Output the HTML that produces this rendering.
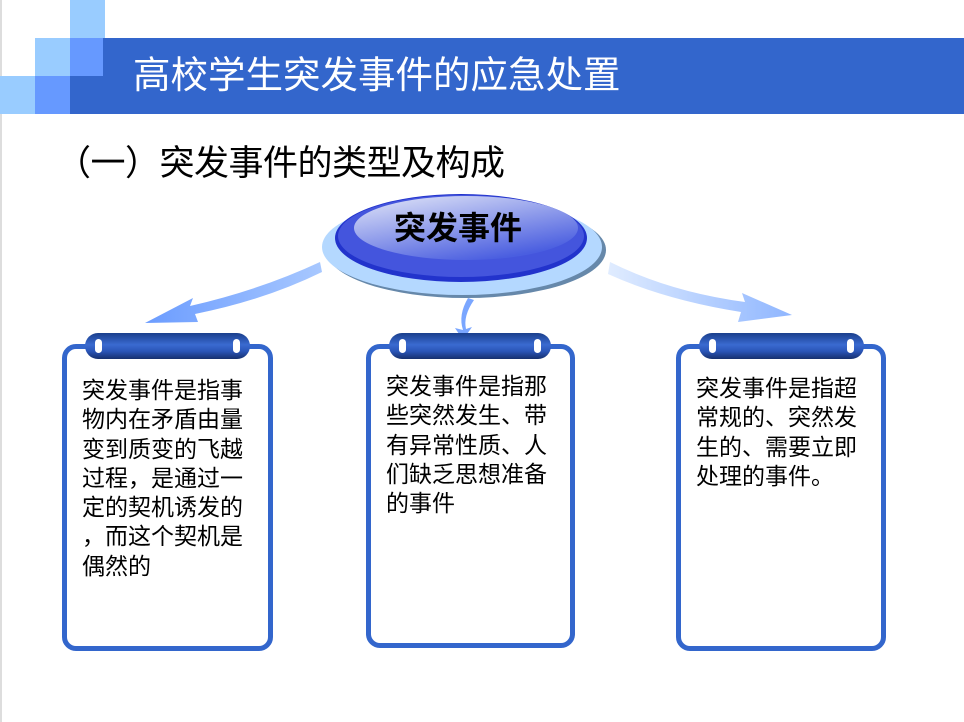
<!DOCTYPE html>
<html><head><meta charset="utf-8"><style>
body{margin:0;width:964px;height:722px;background:#fff;position:relative;overflow:hidden;font-family:"Liberation Sans","Noto Sans CJK SC",sans-serif}
.sq{position:absolute;width:35px;height:38px}
.box{position:absolute;border:5px solid #3366cc;border-radius:14px;background:#fff;box-sizing:border-box}
.tab{position:absolute;height:26px;border-radius:13px;background:linear-gradient(#1a3f8c,#3a6ad0 45%,#2a55b8 70%,#16306e)}
.tab i{position:absolute;top:6px;width:7px;height:14px;border-radius:4px;background:#fff}
.txt{position:absolute;font-size:23px;line-height:29.3px;color:#000;white-space:nowrap}
</style></head><body>
<div style="position:absolute;left:0;top:0;width:2px;height:722px;background:#ddd"></div>
<div class="sq" style="left:70px;top:0;background:#99ccff"></div>
<div class="sq" style="left:35px;top:38px;background:#99ccff"></div>
<div class="sq" style="left:70px;top:38px;background:#6699ff"></div>
<div class="sq" style="left:0;top:76px;background:#99ccff"></div>
<div class="sq" style="left:35px;top:76px;background:#6699ff"></div>
<div class="sq" style="left:70px;top:76px;background:#3366cc"></div>
<div style="position:absolute;left:103px;top:38px;width:861px;height:76px;background:#3366cc"></div>
<div style="position:absolute;left:133px;top:53px;font-size:37.5px;color:#fff;line-height:44px;white-space:nowrap">高校学生突发事件的应急处置</div>
<div style="position:absolute;left:56px;top:142px;font-size:35px;color:#000;line-height:44px;white-space:nowrap;letter-spacing:-0.5px">（一）突发事件的类型及构成</div>
<svg width="964" height="722" style="position:absolute;left:0;top:0">
<defs>
<linearGradient id="lg" x1="0" y1="0" x2="1" y2="0"><stop offset="0" stop-color="#6b9cff"/><stop offset="1" stop-color="#a8c8ff"/></linearGradient>
<linearGradient id="rg" x1="0" y1="0" x2="1" y2="0"><stop offset="0" stop-color="#e0ecff"/><stop offset="1" stop-color="#8fb6ff"/></linearGradient>
<linearGradient id="ig" x1="0" y1="0" x2="0.6" y2="1"><stop offset="0" stop-color="#e4e8f8"/><stop offset="1" stop-color="#4a5ee0"/></linearGradient>
</defs>
<path d="M320,262 Q260,290 190,306 L193,298 L145,323 L198,322 L195,314 Q265,300 322,272 Z" fill="url(#lg)"/>
<path d="M610,262 Q670,292 745,302 L742,293 L792,315 L738,322 L741,312 Q665,300 608,274 Z" fill="url(#rg)"/>
<path d="M468,298 Q458,315 463,330 L455,328 L463,340 L472,327 L466,329 Q463,316 474,300 Z" fill="#7aa6ff"/>
<ellipse cx="466" cy="250" rx="140" ry="48" fill="#6688aa"/>
<ellipse cx="462" cy="247" rx="140" ry="48" fill="#b4d8ff"/>
<ellipse cx="461" cy="238" rx="126" ry="44" fill="#2233cc"/>
<ellipse cx="461" cy="236" rx="123" ry="41" fill="#4455dd"/>
<ellipse cx="466" cy="228" rx="112" ry="32" fill="url(#ig)"/>
</svg>
<div style="position:absolute;left:394px;top:208px;font-size:32px;font-weight:bold;color:#000;line-height:40px;white-space:nowrap">突发事件</div>
<div class="box" style="left:62px;top:344px;width:211px;height:307px"></div>
<div class="tab" style="left:85px;top:333px;width:165px"><i style="left:10px"></i><i style="right:10px"></i></div>
<div class="txt" style="left:82px;top:376px">突发事件是指事<br>物内在矛盾由量<br>变到质变的飞越<br>过程，是通过一<br>定的契机诱发的<br>，而这个契机是<br>偶然的</div>
<div class="box" style="left:366px;top:344px;width:209px;height:304px"></div>
<div class="tab" style="left:389px;top:333px;width:162px"><i style="left:10px"></i><i style="right:10px"></i></div>
<div class="txt" style="left:386px;top:372px">突发事件是指那<br>些突然发生、带<br>有异常性质、人<br>们缺乏思想准备<br>的事件</div>
<div class="box" style="left:676px;top:344px;width:210px;height:307px"></div>
<div class="tab" style="left:699px;top:333px;width:165px"><i style="left:10px"></i><i style="right:10px"></i></div>
<div class="txt" style="left:696px;top:374px">突发事件是指超<br>常规的、突然发<br>生的、需要立即<br>处理的事件。</div>
</body></html>
